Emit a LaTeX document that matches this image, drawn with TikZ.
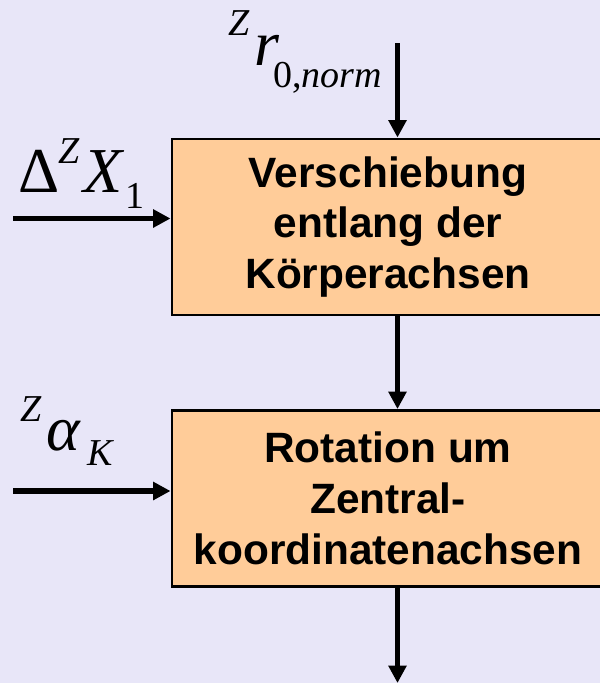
\documentclass[tikz,border=0pt]{standalone}
\usepackage{fontspec}
\setmainfont{Liberation Sans}
\newfontfamily\tms{Liberation Serif}
\usetikzlibrary{arrows.meta}
\definecolor{bgc}{RGB}{232,230,248}
\definecolor{boxc}{RGB}{255,204,153}
\tikzset{
  blk/.style={draw=black, line width=2.2pt, fill=boxc, minimum width=324pt, minimum height=132pt,
    align=center, inner sep=0pt, font=\fontsize{31.8}{38}\selectfont\bfseries},
  flow/.style={line width=3.8pt, -{Triangle[length=13pt,width=13pt]}},
  big/.style={inner sep=0pt, anchor=base west, font=\tms\fontsize{48}{48}\selectfont},
  sml/.style={inner sep=0pt, anchor=base west, font=\tms\fontsize{28.5}{28.5}\selectfont},
}
\begin{document}
\begin{tikzpicture}[x=0.75pt,y=-0.75pt]
\fill[bgc] (0,0) rectangle (600,683);
\useasboundingbox (0,0) rectangle (600,683);
\begin{scope}
\clip (0,0) rectangle (600,683);
\node[blk] (b1) at (388,227) {Verschiebung\\entlang der\\Körperachsen};
\node[blk] (b2) at (388,498.5) {Rotation um\\Zentral-\\koordinatenachsen};
\end{scope}
\coordinate (tin) at (397.5,43);
\coordinate (bout) at (397.5,683);
\coordinate (lin1) at (13,218.5);
\coordinate (lin2) at (13,491);
\draw[flow] (tin) -- (tin |- b1.north);
\draw[flow] (tin |- b1.south) -- (tin |- b2.north);
\draw[flow] (tin |- b2.south) -- (bout);
\draw[flow] (lin1) -- (lin1 -| b1.west);
\draw[flow] (lin2) -- (lin2 -| b2.west);
% label 1
\node[sml] (z1) at (228,35) {\itshape Z};
\node[big] (r1) at (254,65) {\itshape r};
\node[sml] (s1) at (273,87) {0,\itshape norm};
% label 2
\node[big] (d2) at (18,192) {Δ};
\node[sml] (z2) at (58,163) {\itshape Z};
\node[big] (x2) at (83,192) {\itshape X};
\node[sml] (s2) at (125,208) {1};
% label 3
\node[sml] (z3) at (20,421) {\itshape Z};
\node[big] (a3) at (46,450) {\itshape α};
\node[sml] (s3) at (87,465) {\itshape K};
\end{tikzpicture}
\end{document}
